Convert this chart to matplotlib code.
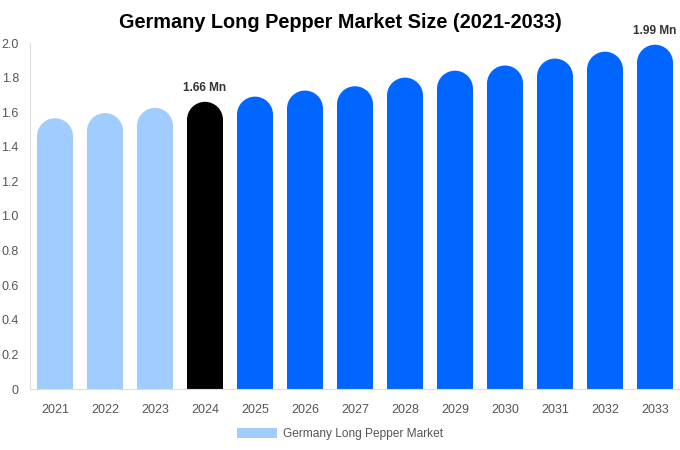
import matplotlib
matplotlib.use("Agg")
import matplotlib.pyplot as plt
from matplotlib.patches import Rectangle, Ellipse, Patch

years = ["2021", "2022", "2023", "2024", "2025", "2026", "2027", "2028", "2029", "2030", "2031", "2032", "2033"]
values = [1.565, 1.595, 1.625, 1.66, 1.69, 1.725, 1.75, 1.80, 1.84, 1.87, 1.91, 1.95, 1.99]
colors = ["#a0cdfd"] * 3 + ["#000000"] + ["#0066ff"] * 9
labels = {3: "1.66 Mn", 12: "1.99 Mn"}
yticks = [0, 0.2, 0.4, 0.6, 0.8, 1.0, 1.2, 1.4, 1.6, 1.8, 2.0]
ytick_labels = ["0", "0.2", "0.4", "0.6", "0.8", "1.0", "1.2", "1.4", "1.6", "1.8", "2.0"]

plt.rcParams['font.family'] = ['Liberation Sans', 'DejaVu Sans']

fig = plt.figure(figsize=(6.8, 4.5), dpi=100)
ax = fig.add_axes([30/680, 61/450, 650/680, 346/450])
ax.set_xlim(-0.5, len(years) - 0.5)
ax.set_ylim(0, 2.0)

width = 0.72
px_per_x = 650 / len(years)
px_per_y = 346 / 2.0
r_px = width / 2 * px_per_x
ry = r_px / px_per_y

for i, (v, c) in enumerate(zip(values, colors)):
    ax.add_patch(Rectangle((i - width / 2, 0), width, v - ry, facecolor=c, edgecolor='none'))
    ax.add_patch(Ellipse((i, v - ry), width, 2 * ry, facecolor=c, edgecolor='none'))
    if i in labels:
        ax.text(i, v + 0.045, labels[i], ha='center', va='bottom', fontsize=8.6,
                fontweight='bold', color='#333333')

ax.set_xticks(range(len(years)))
ax.set_xticklabels(years, fontsize=9, color='#555555')
ax.set_yticks(yticks)
ax.set_yticklabels(ytick_labels, fontsize=9, color='#555555')
ax.tick_params(axis='both', length=0)
ax.tick_params(axis='x', pad=11)
ax.tick_params(axis='y', pad=8)
for s in ['top', 'right']:
    ax.spines[s].set_visible(False)
ax.spines['left'].set_color('#dddddd')
ax.spines['bottom'].set_color('#dddddd')

fig.text(340/680, 1 - 22/450, "Germany Long Pepper Market Size (2021-2033)", ha='center', va='center',
         fontsize=14.3, fontweight='bold', color='#000000')

fig.legend(handles=[Patch(facecolor="#a0cdfd", edgecolor='none', label="Germany Long Pepper Market")],
           loc='center', bbox_to_anchor=(340/680, 1 - 434/450), frameon=False, fontsize=8.6,
           handlelength=3.3, handleheight=1.0, labelcolor='#555555', handletextpad=0.5)

fig.savefig("out.png", dpi=100)
